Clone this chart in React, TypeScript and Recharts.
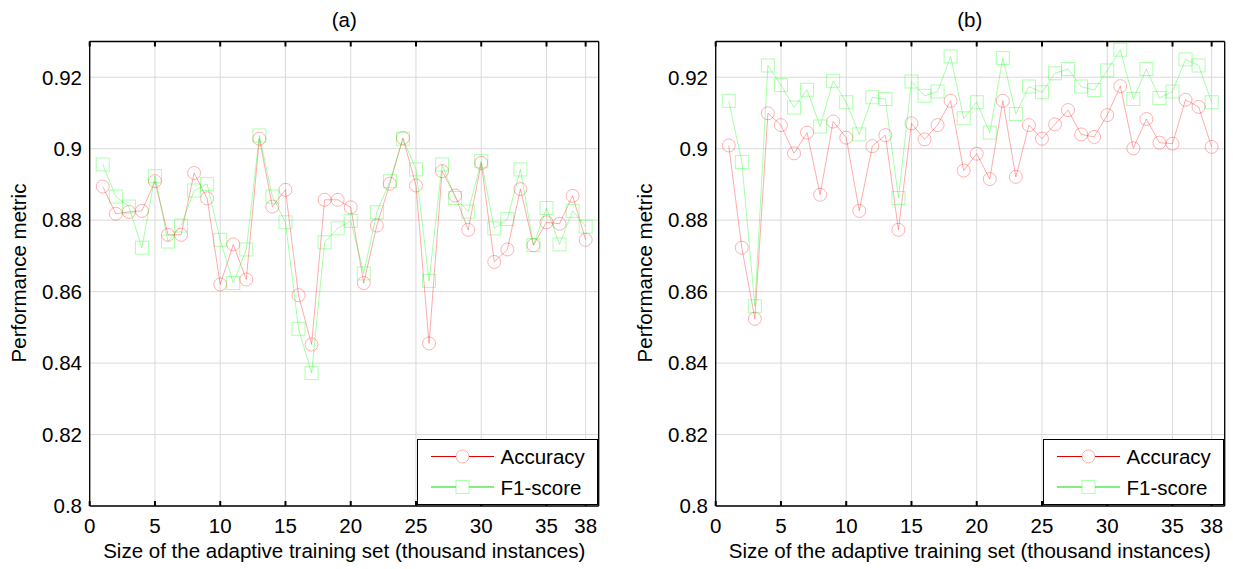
import { LineChart, Line, XAxis, YAxis, CartesianGrid, Legend } from "recharts";

const sizes = [
  1, 2, 3, 4, 5, 6, 7, 8, 9, 10, 11, 12, 13, 14, 15, 16, 17, 18, 19, 20,
  21, 22, 23, 24, 25, 26, 27, 28, 29, 30, 31, 32, 33, 34, 35, 36, 37, 38,
];
const xTicks = [0, 5, 10, 15, 20, 25, 30, 35, 38];
const yTicks = [0.8, 0.82, 0.84, 0.86, 0.88, 0.9, 0.92];

// (a)
const accuracyA = [
  0.8894, 0.8818, 0.8823, 0.8826, 0.8909, 0.8759, 0.8759, 0.8932, 0.8861, 0.862,
  0.8732, 0.8634, 0.9028, 0.8838, 0.8885, 0.859, 0.8452, 0.8857, 0.8857, 0.8836,
  0.8624, 0.8785, 0.8902, 0.903, 0.8897, 0.8455, 0.8937, 0.8869, 0.8773, 0.896,
  0.8683, 0.8718, 0.8887, 0.873, 0.8794, 0.879, 0.8868, 0.8745,
];
const f1A = [
  0.8956, 0.8866, 0.8838, 0.8723, 0.8923, 0.874, 0.8785, 0.8883, 0.8901, 0.8745,
  0.8624, 0.8718, 0.9037, 0.8866, 0.8794, 0.8496, 0.8372, 0.8738, 0.8777, 0.8798,
  0.8651, 0.8822, 0.8909, 0.9028, 0.8942, 0.863, 0.8956, 0.8862, 0.8824, 0.8965,
  0.8777, 0.8803, 0.8942, 0.873, 0.8834, 0.8732, 0.8826, 0.8782,
];

// (b)
const accuracyB = [
  0.9009, 0.8723, 0.8524, 0.9099, 0.9066, 0.8987, 0.9045, 0.8871, 0.9076, 0.9031,
  0.8826, 0.9007, 0.9038, 0.8773, 0.9071, 0.9026, 0.9066, 0.9134, 0.8939, 0.8986,
  0.8915, 0.9134, 0.8921, 0.9066, 0.9028, 0.9068, 0.9108, 0.904, 0.9033, 0.9094,
  0.9175, 0.9001, 0.9083, 0.9017, 0.9014, 0.9137, 0.9117, 0.9005,
];
const f1B = [
  0.9134, 0.8963, 0.8559, 0.9233, 0.9178, 0.9115, 0.9165, 0.9062, 0.919, 0.913,
  0.904, 0.9144, 0.9139, 0.8862, 0.9188, 0.9148, 0.916, 0.9258, 0.9085, 0.913,
  0.9045, 0.9254, 0.9097, 0.9174, 0.9158, 0.9211, 0.9223, 0.9174, 0.9164, 0.9219,
  0.9277, 0.9139, 0.9223, 0.9142, 0.916, 0.925, 0.9233, 0.913,
];

const FONT = '"Liberation Sans", Arial, sans-serif';
const FS = 20.5;
const RED = "#ff0000";
const GREEN = "#00ff00";

const CircleDot = (props: any) => {
  const { cx, cy, index } = props;
  if (cx == null || cy == null) return null;
  return (
    <circle key={`c-${index}`} cx={cx} cy={cy} r={6.5} fill="none" stroke={RED} strokeOpacity={0.3} />
  );
};

const SquareDot = (props: any) => {
  const { cx, cy, index } = props;
  if (cx == null || cy == null) return null;
  return (
    <rect key={`s-${index}`} x={cx - 6.5} y={cy - 6.5} width={13} height={13} fill="none" stroke={GREEN} strokeOpacity={0.32} />
  );
};

// no label, tick line only
const NoLabel = () => <g />;

// legend box drawn like the matlab one
const LegendBox = () => (
  <svg width={181} height={67} style={{ display: "block", fontFamily: FONT }}>
    <rect x={0.5} y={0.5} width={180} height={65} fill="#fff" stroke="#000" />
    <line x1={14} x2={77} y1={17.5} y2={17.5} stroke="#e00000" />
    <circle cx={45.5} cy={17.5} r={6.5} fill="#fff" stroke={RED} strokeOpacity={0.3} />
    <text x={83.5} y={25} fontSize={FS} fill="#000">Accuracy</text>
    <line x1={14} x2={77} y1={48} y2={48} stroke="#00e000" />
    <rect x={39} y={41.5} width={13} height={13} fill="#fff" stroke={GREEN} strokeOpacity={0.32} />
    <text x={83.5} y={55.5} fontSize={FS} fill="#000">F1-score</text>
  </svg>
);

const fmt = (v: number) => String(Number(v.toFixed(2)));

// inward tick marks on all four sides: thin mirrored axes next to the plot
const tickMark = { stroke: "#000", strokeWidth: 2 };
const boxLine = { stroke: "#000", strokeWidth: 1.3 };

function Panel({ acc, f1, title, left }: { acc: number[]; f1: number[]; title: string; left: number }) {
  const data = sizes.map((s, i) => ({ size: s, accuracy: acc[i], f1: f1[i] }));
  const labelStyle: React.CSSProperties = {
    position: "absolute",
    fontSize: FS,
    lineHeight: 1,
    whiteSpace: "nowrap",
    color: "#000",
  };
  return (
    <div style={{ position: "absolute", left, top: 0, width: 600, height: 569 }}>
      <LineChart
        width={600}
        height={569}
        data={data}
        margin={{ top: 41.5, right: 1.3, bottom: 13, left: 29.7 }}
        style={{ fontFamily: FONT }}
      >
        <CartesianGrid stroke="#dadada" />
        <XAxis
          xAxisId="tb"
          dataKey="size"
          type="number"
          domain={[0, 39]}
          ticks={xTicks}
          interval={0}
          height={1}
          mirror
          tickSize={5}
          tick={NoLabel}
          axisLine={boxLine}
          tickLine={tickMark}
        />
        <XAxis
          dataKey="size"
          type="number"
          domain={[0, 39]}
          ticks={xTicks}
          interval={0}
          height={50}
          tickSize={0}
          tickMargin={12}
          axisLine={false}
          tickLine={false}
          tick={{ fontSize: FS, fill: "#000" }}
        />
        <XAxis
          xAxisId="top"
          orientation="top"
          dataKey="size"
          type="number"
          domain={[0, 39]}
          ticks={xTicks}
          interval={0}
          height={1}
          mirror
          tickSize={5}
          tick={NoLabel}
          axisLine={boxLine}
          tickLine={tickMark}
        />
        <YAxis
          yAxisId="lt"
          type="number"
          domain={[0.8, 0.93]}
          ticks={yTicks}
          interval={0}
          width={1}
          mirror
          tickSize={5}
          tick={NoLabel}
          axisLine={boxLine}
          tickLine={tickMark}
        />
        <YAxis
          type="number"
          domain={[0.8, 0.93]}
          ticks={yTicks}
          interval={0}
          width={60}
          tickSize={0}
          tickMargin={7.7}
          tickFormatter={fmt}
          axisLine={false}
          tickLine={false}
          tick={{ fontSize: FS, fill: "#000" }}
        />
        <YAxis
          yAxisId="right"
          orientation="right"
          type="number"
          domain={[0.8, 0.93]}
          ticks={yTicks}
          interval={0}
          width={1}
          mirror
          tickSize={5}
          tick={NoLabel}
          axisLine={boxLine}
          tickLine={tickMark}
        />
        <Line
          dataKey="accuracy"
          name="Accuracy"
          stroke={RED}
          strokeOpacity={0.33}
          strokeWidth={1}
          dot={CircleDot}
          activeDot={false}
          isAnimationActive={false}
        />
        <Line
          dataKey="f1"
          name="F1-score"
          stroke={GREEN}
          strokeOpacity={0.35}
          strokeWidth={1}
          dot={SquareDot}
          activeDot={false}
          isAnimationActive={false}
        />
        <Legend
          layout="vertical"
          align="center"
          verticalAlign="middle"
          content={() => <LegendBox />}
          wrapperStyle={{ left: 417.3, top: 439.3, width: 181, height: 67 }}
        />
      </LineChart>
      <div style={{ ...labelStyle, left: 344.2, top: 20, transform: "translate(-50%, -50%)" }}>{title}</div>
      <div style={{ ...labelStyle, left: 344.2, top: 551, transform: "translate(-50%, -50%)" }}>
        Size of the adaptive training set (thousand instances)
      </div>
      <div style={{ ...labelStyle, left: 19, top: 273, transform: "translate(-50%, -50%) rotate(-90deg)" }}>
        Performance metric
      </div>
    </div>
  );
}

export default function App() {
  return (
    <div
      style={{
        position: "absolute",
        left: 0,
        top: 0,
        width: 1233,
        height: 569,
        overflow: "hidden",
        background: "#fff",
        fontFamily: FONT,
      }}
    >
      <Panel acc={accuracyA} f1={f1A} title="(a)" left={0} />
      <Panel acc={accuracyB} f1={f1B} title="(b)" left={625.6} />
    </div>
  );
}
